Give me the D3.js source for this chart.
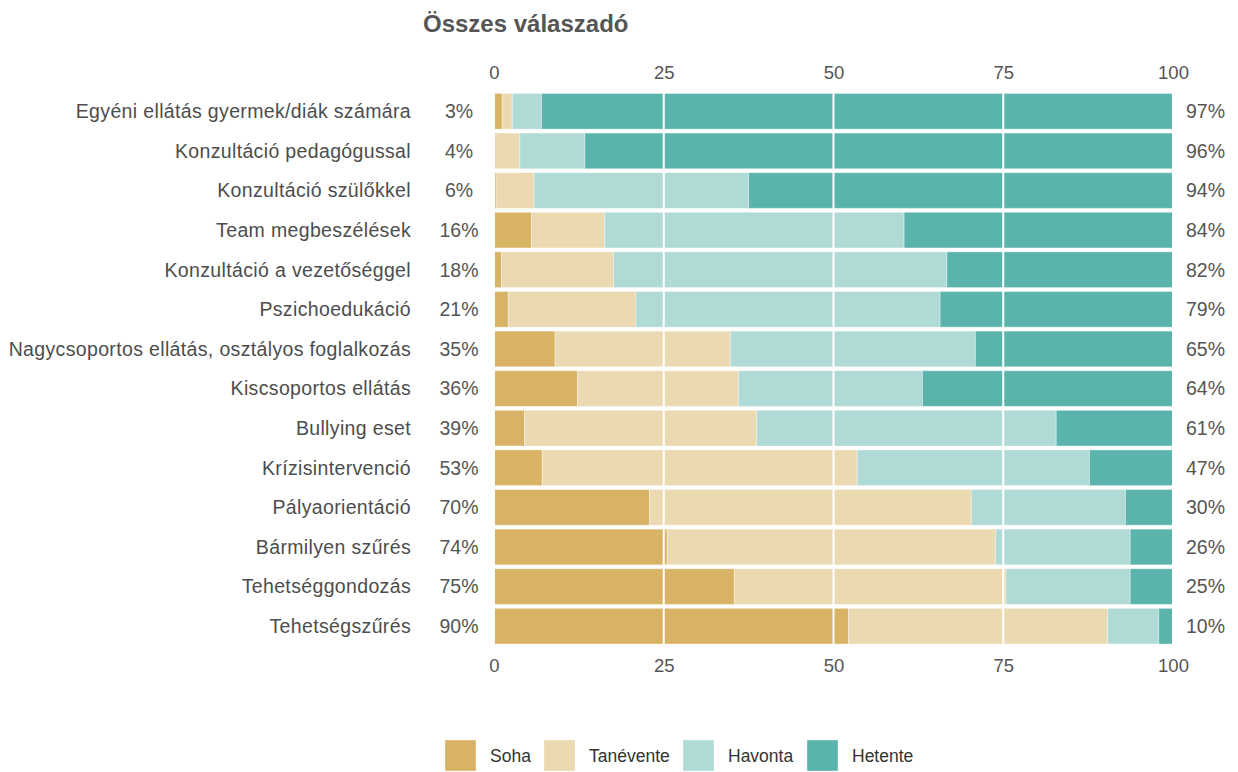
<!DOCTYPE html>
<html><head><meta charset="utf-8">
<script src="https://cdn.jsdelivr.net/npm/d3@7"></script>
<style>body{margin:0;background:#fff;} svg{display:block;font-family:"Liberation Sans",Arial,sans-serif;}</style>
</head><body><svg id="c" width="1238" height="772"></svg>
<script>
const categories = ["Egyéni ellátás gyermek/diák számára","Konzultáció pedagógussal","Konzultáció szülőkkel","Team megbeszélések","Konzultáció a vezetőséggel","Pszichoedukáció","Nagycsoportos ellátás, osztályos foglalkozás","Kiscsoportos ellátás","Bullying eset","Krízisintervenció","Pályaorientáció","Bármilyen szűrés","Tehetséggondozás","Tehetségszűrés"];
const soha      = [1.2, 0.0, 0.3, 5.5, 1.1, 2.1, 9.0, 12.3, 4.5, 7.1, 22.9, 25.5, 35.4, 52.2];
const tanevente = [1.5, 3.8, 5.6, 10.8, 16.5, 18.8, 25.8, 23.7, 34.2, 46.4, 47.4, 48.4, 40.0, 38.2];
const havonta   = [4.3, 9.6, 31.6, 44.1, 49.1, 44.8, 36.1, 27.1, 44.1, 34.2, 22.7, 19.8, 18.3, 7.5];
const hetente   = [93.0, 86.6, 62.5, 39.6, 33.3, 34.3, 29.1, 36.9, 17.2, 12.3, 7.0, 6.3, 6.3, 2.1];
const leftLabels  = ["3%","4%","6%","16%","18%","21%","35%","36%","39%","53%","70%","74%","75%","90%"];
const rightLabels = ["97%","96%","94%","84%","82%","79%","65%","64%","61%","47%","30%","26%","25%","10%"];
const seriesNames = ["Soha","Tanévente","Havonta","Hetente"];
const seriesColors = ["#d8b365","#ebd9b1","#afdad6","#5ab4ac"];
const xTicks = [0,25,50,75,100];
const title = "Összes válaszadó";

const svg = d3.select("#c");
const x = d3.scaleLinear().domain([0,100]).range([494,1173]);
const y = d3.scaleBand().domain(categories).range([91.5,646]).paddingInner(0.1).paddingOuter(0.05);
const color = d3.scaleOrdinal().domain(seriesNames).range(seriesColors);

const rows = categories.map((c,i)=>({cat:c, Soha:soha[i], "Tanévente":tanevente[i], Havonta:havonta[i], Hetente:hetente[i]}));
const stacked = d3.stack().keys(seriesNames)(rows);

svg.append("g").selectAll("g").data(stacked).join("g")
  .attr("fill", d=>color(d.key))
  .selectAll("rect").data(d=>d).join("rect")
  .attr("x", d=>x(d[0])).attr("width", d=>Math.max(0,x(d[1])-x(d[0])))
  .attr("y", d=>y(d.data.cat)).attr("height", y.bandwidth())
  .attr("stroke","#ffffff").attr("stroke-opacity",0.35).attr("stroke-width",1);

// white grid lines over bars
svg.append("g").selectAll("line").data(xTicks).join("line")
  .attr("x1",d=>x(d)).attr("x2",d=>x(d))
  .attr("y1",y.range()[0]).attr("y2",y.range()[1])
  .attr("stroke","#fff").attr("stroke-width",2);

// axes top & bottom
const axTop = d3.axisTop(x).tickValues(xTicks).tickSize(0).tickPadding(0);
const gTop = svg.append("g").attr("transform","translate(0,79)").call(axTop);
const axBot = d3.axisBottom(x).tickValues(xTicks).tickSize(0).tickPadding(0);
const gBot = svg.append("g").attr("transform","translate(0,659)").call(axBot);
[gTop,gBot].forEach(g=>{
  g.select(".domain").remove();
  g.selectAll("text").attr("font-size",18.5).attr("fill","#555").attr("font-family","Liberation Sans, Arial, sans-serif");
});
gBot.selectAll("text").attr("dy","0.71em");

// category labels
svg.append("g").selectAll("text").data(categories).join("text")
  .attr("x",411).attr("y",d=>y(d)+y.bandwidth()/2).attr("dy","0.35em")
  .attr("text-anchor","end").attr("font-size",19.5).attr("letter-spacing","0.35px")
  .attr("fill","#4d4d4d").text(d=>d);

// left percent labels
svg.append("g").selectAll("text").data(categories).join("text")
  .attr("x",459).attr("y",d=>y(d)+y.bandwidth()/2).attr("dy","0.35em")
  .attr("text-anchor","middle").attr("font-size",19.5).attr("fill","#555").text((d,i)=>leftLabels[i]);

// right percent labels
svg.append("g").selectAll("text").data(categories).join("text")
  .attr("x",1186).attr("y",d=>y(d)+y.bandwidth()/2).attr("dy","0.35em")
  .attr("text-anchor","start").attr("font-size",19.5).attr("fill","#555").text((d,i)=>rightLabels[i]);

// title
svg.append("text").attr("x",423).attr("y",32).attr("font-size",24).attr("font-weight","bold")
  .attr("fill","#555").text(title);

// legend
const legX = [445,544,683,807];
const lg = svg.append("g").selectAll("g").data(seriesNames).join("g")
  .attr("transform",(d,i)=>`translate(${legX[i]},740)`);
lg.append("rect").attr("width",31).attr("height",31).attr("fill",d=>color(d))
  .attr("stroke","#fff").attr("stroke-opacity",0.35);
lg.append("text").attr("x",45).attr("y",16).attr("dy","0.35em").attr("font-size",17.5).attr("fill","#333").text(d=>d);
</script></body></html>
